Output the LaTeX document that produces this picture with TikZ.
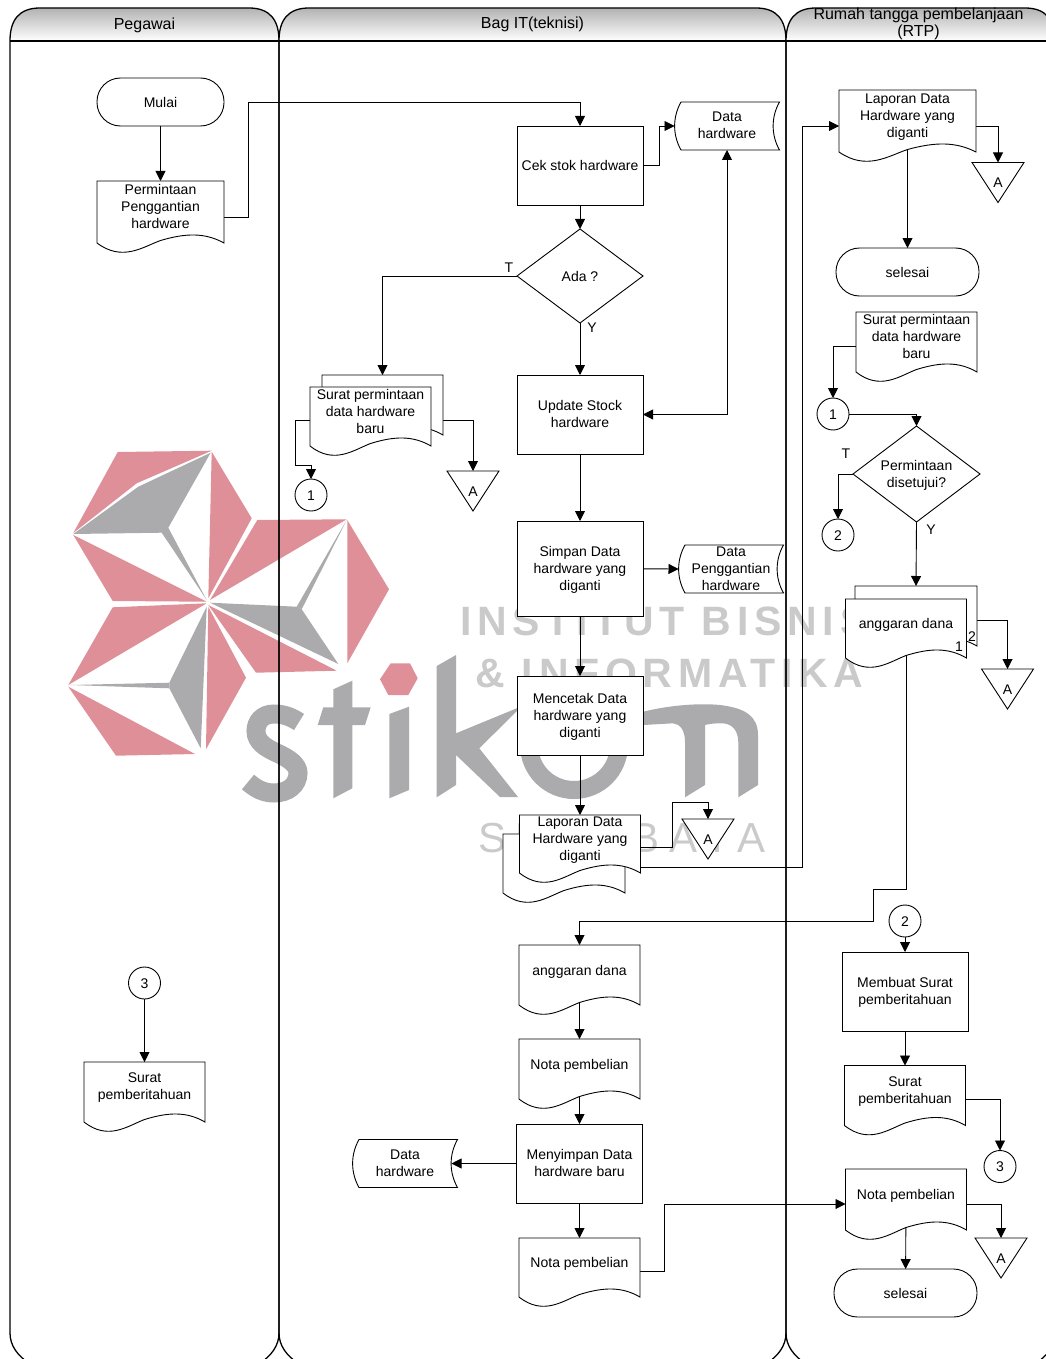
\documentclass[tikz,border=0pt]{standalone}
\usepackage{fontspec}
\setmainfont{Liberation Sans}
\usetikzlibrary{arrows.meta,positioning,shapes.geometric,backgrounds}
\definecolor{wmpink}{HTML}{DE8F98}
\definecolor{wmgray}{HTML}{ABABAD}
\definecolor{wmtext}{HTML}{CACACA}
\newdimen\flowL \newdimen\flowR \newdimen\flowB \newdimen\flowT \newdimen\flowW
\makeatletter
\pgfdeclareshape{docshape}{
  \inheritsavedanchors[from=rectangle]
  \inheritanchorborder[from=rectangle]
  \inheritanchor[from=rectangle]{center}
  \inheritanchor[from=rectangle]{north}
  \inheritanchor[from=rectangle]{south}
  \inheritanchor[from=rectangle]{east}
  \inheritanchor[from=rectangle]{west}
  \inheritanchor[from=rectangle]{south east}
  \anchor{doc east}{\southwest \pgf@ya=\pgf@y \northeast \pgf@y=\pgf@ya \advance\pgf@y by 16pt}
  \anchor{doc west}{\southwest \advance\pgf@y by 16pt}
  \backgroundpath{
    \southwest \flowL=\pgf@x \flowB=\pgf@y
    \northeast \flowR=\pgf@x \flowT=\pgf@y
    \flowW=\flowR \advance\flowW by -\flowL
    \advance\flowB by -10pt
    \pgfpathmoveto{\pgfqpoint{\flowL}{\flowT}}
    \pgfpathlineto{\pgfqpoint{\flowR}{\flowT}}
    \pgfpathlineto{\pgfqpoint{\flowR}{\flowB}}
    \pgfpathcurveto{\pgfpoint{\flowL+0.85\flowW}{\flowB+10.5pt}}{\pgfpoint{\flowL+0.7\flowW}{\flowB+10pt}}{\pgfpoint{\flowL+0.5\flowW}{\flowB+2.5pt}}
    \pgfpathcurveto{\pgfpoint{\flowL+0.36\flowW}{\flowB-4pt}}{\pgfpoint{\flowL+0.2\flowW}{\flowB-19pt}}{\pgfqpoint{\flowL}{\flowB}}
    \pgfpathclose
  }
}
\pgfdeclareshape{storeshape}{
  \inheritsavedanchors[from=rectangle]
  \inheritanchorborder[from=rectangle]
  \inheritanchor[from=rectangle]{center}
  \inheritanchor[from=rectangle]{north}
  \inheritanchor[from=rectangle]{south}
  \inheritanchor[from=rectangle]{east}
  \inheritanchor[from=rectangle]{west}
  \backgroundpath{
    \southwest \flowL=\pgf@x \flowB=\pgf@y
    \northeast \flowR=\pgf@x \flowT=\pgf@y
    \pgfpathmoveto{\pgfpoint{\flowL+6.5pt}{\flowT}}
    \pgfpathlineto{\pgfqpoint{\flowR}{\flowT}}
    \pgfpathcurveto{\pgfpoint{\flowR-8.5pt}{\flowT-15pt}}{\pgfpoint{\flowR-8.5pt}{\flowB+15pt}}{\pgfqpoint{\flowR}{\flowB}}
    \pgfpathlineto{\pgfpoint{\flowL+6.5pt}{\flowB}}
    \pgfpathcurveto{\pgfpoint{\flowL-2pt}{\flowB+15pt}}{\pgfpoint{\flowL-2pt}{\flowT-15pt}}{\pgfpoint{\flowL+6.5pt}{\flowT}}
    \pgfpathclose
  }
}
\pgfdeclareshape{offshape}{
  \inheritsavedanchors[from=rectangle]
  \inheritanchorborder[from=rectangle]
  \inheritanchor[from=rectangle]{center}
  \inheritanchor[from=rectangle]{north}
  \inheritanchor[from=rectangle]{south}
  \backgroundpath{
    \southwest \flowL=\pgf@x \flowB=\pgf@y
    \northeast \flowR=\pgf@x \flowT=\pgf@y
    \flowW=\flowR \advance\flowW by -\flowL
    \pgfpathmoveto{\pgfqpoint{\flowL}{\flowT}}
    \pgfpathlineto{\pgfqpoint{\flowR}{\flowT}}
    \pgfpathlineto{\pgfpoint{\flowL+0.5\flowW}{\flowB}}
    \pgfpathclose
  }
}
\makeatother
\tikzset{
  flowtext/.style={inner sep=0pt, outer sep=0pt, align=center, font=\fontsize{14}{17}\selectfont, execute at begin node=\strut, text depth=1.1pt},
  flownode/.style={flowtext, draw=black, fill=white, line width=0.9pt},
  flowproc/.style={flownode, rectangle, minimum width=126pt, minimum height=79pt},
  flowterm/.style={flownode, rectangle, rounded corners=23.5pt, minimum width=127pt, minimum height=48pt},
  flowdoc/.style={flownode, shape=docshape, minimum width=121pt, minimum height=50pt},
  flowstore/.style={flownode, shape=storeshape, minimum width=105pt, minimum height=48pt},
  flowdec/.style={flownode, diamond, aspect=1.34, minimum width=126pt, minimum height=94pt},
  flowoff/.style={flownode, shape=offshape, minimum width=52pt, minimum height=40pt},
  flowcircle/.style={flownode, circle, minimum size=32pt},
  flowlabel/.style={flowtext},
  lanetitle/.style={flowtext, font=\fontsize{16}{17}\selectfont},
  lanepath/.style={draw=black, line width=1.3pt},
  flowarrow/.style={-{Triangle[length=10pt,width=10pt]}, line width=0.9pt},
  wmletters/.style={inner sep=0pt, anchor=west, text=wmtext}
}
\begin{document}
\begin{tikzpicture}[x=1pt,y=-1pt]
\useasboundingbox (0,0) rectangle (1045,1359);

% logo behind everything
\begin{scope}[on background layer]
\fill[wmpink] (117.7,452) -- (211.7,450.7) -- (136.7,483.3) -- (73.3,533) -- cycle;
\fill[wmgray] (73.3,534) -- (138.3,486.7) -- (210.7,452.7) -- (168.3,527.7) -- (206.7,600) -- (161.7,532.7) -- cycle;
\fill[wmpink] (211.7,451.7) -- (251.7,518.3) -- (208.3,598.3) -- cycle;
\fill[wmpink] (73.3,535) -- (206.7,601.7) -- (112.7,601) -- cycle;
\fill[wmpink] (257.3,520) -- (346.7,519.3) -- (210,600) -- cycle;
\fill[wmgray] (346.7,520) -- (296.7,606.7) -- (301.7,609.3) -- cycle;
\fill[wmpink] (347.3,520) -- (389,589.3) -- (347.3,663.3) -- cycle;
\fill[wmgray] (210,602.7) -- (296.7,606.7) -- (301.7,609.3) -- (338.3,664) -- cycle;
\fill[wmpink] (208.3,605) -- (336.7,670.7) -- (256,672.7) -- cycle;
\fill[wmpink] (112.7,607.3) -- (206.7,603.3) -- (68.3,685) -- cycle;
\fill[wmgray] (70,685) -- (169.3,682.7) -- (169.3,688.3) -- cycle;
\fill[wmgray] (206.7,606.7) -- (169.3,682.7) -- (169.3,688.3) -- (200.7,748.3) -- cycle;
\fill[wmpink] (208.3,606.7) -- (246,677.7) -- (206,749.3) -- cycle;
\fill[wmpink] (68.3,686.7) -- (195,754) -- (116,755.7) -- cycle;
\fill[wmpink] (380,679.3) -- (390.7,663.3) -- (410,663.3) -- (417.7,678.3) -- (408.3,695) -- (388.3,695) -- cycle;
% s t i k o m
\draw[wmgray, line width=19pt] (299,722) .. controls (290,716) and (282,714) .. (274,714) .. controls (262,714) and (256,722) .. (256,731) .. controls (256,742) and (266,748) .. (277,753) .. controls (290,759) and (298,765) .. (298,773) .. controls (298,785) and (288,793) .. (274,793) .. controls (264,793) and (256,789) .. (248,782);
\fill[wmgray] (333.3,689.3) -- (352.3,680.7) -- (352.3,707.3) -- (370.7,707.3) -- (365,725) -- (352.3,725) -- (352.3,788.3) -- (333.3,798.3) -- (333.3,725) -- (317.7,725) -- (323.3,707.3) -- (333.3,707.3) -- cycle;
\fill[wmgray] (389.3,714) -- (409,706.7) -- (409,790) -- (389.3,798.3) -- cycle;
\fill[wmgray] (436.7,666) -- (456,655) -- (456,733.3) -- (516.7,708.3) -- (520,708) -- (479.3,748.3) -- (518,797) -- (500,797) -- (456,755) -- (456,785) -- (436.7,797.3) -- cycle;
\draw[wmgray, line width=18pt] (574,745) circle (45pt);
\fill[wmgray] (643.3,711.7) .. controls (670,705) and (700,703) .. (720,705) .. controls (745,708) and (758,716) .. (758,735) -- (758,785) -- (738.3,797.3) -- (738.3,742) .. controls (738,730) and (732,724) .. (723,723.3) .. controls (715,723) and (709,724) .. (705,725) -- (705,785) -- (685,797.3) -- (685,742) .. controls (685,730) and (680,724) .. (673,723.3) -- (643.3,725) -- cycle;
\node[wmletters, font=\bfseries\fontsize{41}{41}\selectfont\addfontfeature{LetterSpace=14}] (wmline) at (460,621) {INSTITUT BISNIS};
\node[wmletters, font=\bfseries\fontsize{41}{41}\selectfont\addfontfeature{LetterSpace=14}] (wmlineb) at (475,673) {\& INFORMATIKA};
\node[wmletters, font=\fontsize{42}{42}\selectfont\addfontfeature{LetterSpace=22}] (wmlinec) at (478,838) {SURABAYA};
% lanes
\foreach \xa/\xb in {10/279,279/786,786/1055} {
  \shade[top color=gray!60, bottom color=white] (\xa,41) .. controls (\xa,20) and (\xa+9,8) .. (\xa+30,8) -- (\xb-30,8) .. controls (\xb-9,8) and (\xb,20) .. (\xb,41) -- cycle;
  \draw[lanepath] (\xa,1333) -- (\xa,41) .. controls (\xa,20) and (\xa+9,8) .. (\xa+30,8) -- (\xb-30,8) .. controls (\xb-9,8) and (\xb,20) .. (\xb,41) -- (\xb,1333);
  \draw[lanepath] (\xa,41) -- (\xb,41);
  \draw[lanepath] (\xa,1333) .. controls (\xa,1346) and (\xa+8,1356) .. (\xa+20,1364);
  \draw[lanepath] (\xb,1333) .. controls (\xb,1346) and (\xb-8,1356) .. (\xb-20,1364);
}
\end{scope}
\node[lanetitle] (pegawai) at (144.5,24.5) {Pegawai};
\node[lanetitle] (bagit) at (532.5,23.5) {Bag IT(teknisi)};
\node[lanetitle] (rtp) at (918.5,23) {Rumah tangga pembelanjaan\\(RTP)};

% lane Pegawai
\node[flowterm] (mulai) at (160.5,102) {Mulai};
\node[flowdoc, minimum width=127pt, minimum height=52pt, below=55pt of mulai] (permintaan) {Permintaan\\Penggantian\\hardware};
\node[flowcircle] (pegthree) at (144.5,983) {3};
\node[flowdoc, below=63pt of pegthree] (pegsurat) {Surat\\pemberitahuan};

% lane Bag IT
\node[flowproc] (cek) at (580,165.5) {Cek stok hardware};
\node[flowstore] (hwstore) at (727,126) {Data\\hardware};
\node[flowdec, below=24pt of cek] (ada) {Ada ?};
\node[flowlabel] (adat) at (509,267) {T};
\node[flowlabel] (aday) at (592,327) {Y};
\node[flowproc, below=52pt of ada] (update) {Update Stock\\hardware};
\node[flowproc, minimum height=95pt, below=67pt of update] (simpan) {Simpan Data\\hardware yang\\diganti};
\node[flowstore] (pgstore) at (731,569) {Data\\Penggantian\\hardware};
\node[flowproc, below=60pt of simpan] (mencetak) {Mencetak Data\\hardware yang\\diganti};
\node[flowdoc, minimum width=122pt, minimum height=49pt, anchor=north] (lapback) at (564,834) {};
\node[flowdoc, minimum height=48pt, below=60pt of mencetak] (lapfront) {Laporan Data\\Hardware yang\\diganti};
\node[flowoff] (offlap) at (708,839) {A};
\node[flowdoc, anchor=north] (spback) at (382.5,375) {};
\node[flowdoc, minimum height=49pt, anchor=north] (spfront) at (370.5,387) {Surat permintaan\\data hardware\\baru};
\node[flowcircle] (itone) at (311,495) {1};
\node[flowoff] (offsp) at (473,491) {A};
\node[flowdoc, anchor=north] (anggaran) at (579.5,945) {anggaran dana};
\node[flowdoc, below=44pt of anggaran] (notaa) {Nota pembelian};
\node[flowproc, below=35pt of notaa] (menyimpan) {Menyimpan Data\\hardware baru};
\node[flowstore] (newstore) at (405,1163.5) {Data\\hardware};
\node[flowdoc, minimum height=49pt, below=35pt of menyimpan] (notab) {Nota pembelian};

% lane RTP
\node[flowdoc, minimum width=137pt, minimum height=52pt, anchor=north] (laprtp) at (907.5,90) {Laporan Data\\Hardware yang\\diganti};
\node[flowoff] (offrtp) at (998,182.5) {A};
\node[flowterm, minimum width=143pt] (selesaia) at (907.5,272) {selesai};
\node[flowdoc, anchor=north] (sprtp) at (916.5,312) {Surat permintaan\\data hardware\\baru};
\node[flowcircle] (rtpone) at (833,414) {1};
\node[flowdec, minimum width=127pt, minimum height=96pt] (setuju) at (916.5,474) {Permintaan\\disetujui?};
\node[flowlabel] (setujut) at (846,453) {T};
\node[flowlabel] (setujuy) at (931,529) {Y};
\node[flowcircle] (rtptwo) at (838,535) {2};
\node[flowdoc, minimum width=122pt, anchor=north] (angback) at (916,586) {};
\node[flowdoc, minimum height=49pt, anchor=north] (angfront) at (906,599) {anggaran dana};
\node[flowlabel] (angone) at (959,646) {1};
\node[flowlabel] (angtwo) at (972,636) {2};
\node[flowoff] (offang) at (1007.5,689) {A};
\node[flowcircle] (rtptwob) at (905,921) {2};
\node[flowproc, below=15pt of rtptwob] (membuat) {Membuat Surat\\pemberitahuan};
\node[flowdoc, below=34.5pt of membuat] (rtpsurat) {Surat\\pemberitahuan};
\node[flowcircle] (rtpthree) at (1000,1166.5) {3};
\node[flowdoc, minimum height=51pt, anchor=north] (notac) at (906,1169) {Nota pembelian};
\node[flowoff] (offnota) at (1001,1258) {A};
\node[flowterm, minimum width=143pt] (selesaib) at (905.5,1293) {selesai};

\coordinate (pegturn) at (248,102);
\coordinate (cekturn) at (659,126);
\coordinate (spturn) at (295,465);
\coordinate (lapturn) at (672,802);
\coordinate (lapturnb) at (802,126);
\coordinate (angturn) at (873,889);
\coordinate (angturnb) at (873,921);
\coordinate (notaturn) at (664,1204);

\begin{scope}[on background layer]
\draw[flowarrow] (mulai) -- (permintaan);
\draw[flowarrow] (permintaan.doc east) -| (pegturn) -| (cek.north);
\draw[flowarrow] (pegthree) -- (pegsurat);
\draw[flowarrow] (cek.east) -| (cekturn) -- (hwstore.west);
\draw[flowarrow] (cek) -- (ada);
\draw[flowarrow] (ada.west) -| (spback.north);
\draw[flowarrow] (ada) -- (update);
\draw[flowarrow, {Triangle[length=10pt,width=10pt]}-{Triangle[length=10pt,width=10pt]}] (hwstore.south) |- (update.east);
\draw[flowarrow] (update) -- (simpan);
\draw[flowarrow] (simpan) -- (pgstore.west);
\draw[flowarrow] (simpan) -- (mencetak);
\draw[flowarrow] (mencetak) -- (lapfront);
\draw[flowarrow] (lapfront.doc east) -| (lapturn) -| (offlap.north);
\draw[flowarrow] ([yshift=-4pt]lapfront.south east) -| (lapturnb) -- (laprtp.doc west);
\draw[flowarrow] (spfront.doc west) -| (spturn) -| (itone.north);
\draw[flowarrow] ([yshift=-11pt]spback.doc east) -| (offsp.north);
\draw[flowarrow] (anggaran) -- (notaa);
\draw[flowarrow] (notaa) -- (menyimpan);
\draw[flowarrow] (menyimpan.west) -- ([xshift=-6pt]newstore.east);
\draw[flowarrow] (menyimpan) -- (notab);
\draw[flowarrow] (notab.doc east) -| (notaturn) -- (notac.doc west);
\draw[flowarrow] (laprtp.doc east) -| (offrtp.north);
\draw[flowarrow] (laprtp) -- (selesaia);
\draw[flowarrow] (sprtp.doc west) -| (rtpone.north);
\draw[flowarrow] (rtpone.east) -| (setuju.north);
\draw[flowarrow] (setuju.west) -| (rtptwo.north);
\draw[flowarrow] (setuju.south) -- (angback.north);
\draw[flowarrow] (angback.doc east) -| (offang.north);
\draw[flowarrow] (angfront.south) |- (angturn) -- (angturnb) -| (anggaran.north);
\draw[flowarrow] (rtptwob) -- (membuat);
\draw[flowarrow] (membuat) -- (rtpsurat);
\draw[flowarrow] (rtpsurat.doc east) -| (rtpthree.north);
\draw[flowarrow] (notac.doc east) -| (offnota.north);
\draw[flowarrow] (notac) -- (selesaib);
\end{scope}
\end{tikzpicture}
\end{document}
